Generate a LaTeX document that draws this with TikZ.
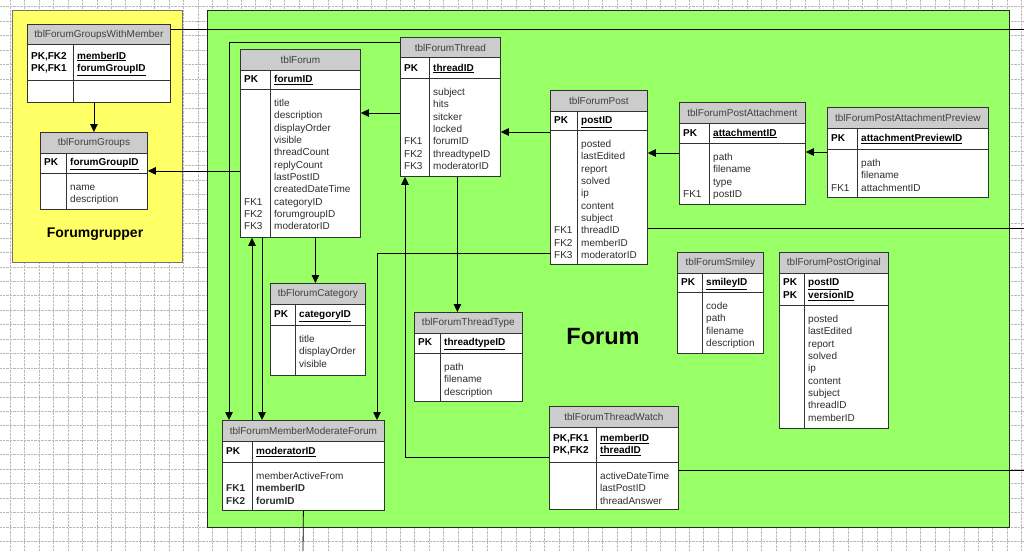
\documentclass[tikz,border=0pt]{standalone}
\usepackage{fontspec}
\setmainfont{Liberation Sans}
\usepackage{array}
\usetikzlibrary{arrows.meta}

\definecolor{forumgreen}{RGB}{153,255,102}
\definecolor{groupyellow}{RGB}{255,255,102}
\definecolor{headgray}{RGB}{204,204,204}
\definecolor{textgray}{RGB}{45,45,45}

\newcommand{\pkey}[1]{\underline{#1}}

% table frame, header and PK part
% #1 name, #2 x, #3 y, #4 width, #5 height, #6 key column, #7 PK height, #8 title, #9 PK rows
\newcommand{\dbtable}[9]{%
  \node[tblframe, minimum width=#4, minimum height=#5] (#1) at (#2,#3) {};
  \node[tblhead, minimum width=#4] (#1-h) at (#1.north west) {#8};
  \path (#1-h.south west) ++(0,#7) coordinate (#1-s);
  \draw[tblline] (#1-s) -- (#1-s -| #1.east);
  \draw[tblline] ([xshift=#6pt]#1-h.south west) -- ([xshift=#6pt]#1.south west);
  \path (#1-h.south west) ++(0,#7/2) node[pkrows] (#1-k)
    {\begin{tabular}{@{\hspace{4pt}}p{\dimexpr#6pt-8pt\relax}@{\hspace{8pt}}l@{}}#9\end{tabular}};
}
% attribute rows under the PK line
% #1 name, #2 key column, #3 rows
\newcommand{\dbrows}[3]{%
  \node[attrrows] (#1-a) at (#1-s)
    {\begin{tabular}{@{\hspace{4pt}}p{\dimexpr#2pt-8pt\relax}@{\hspace{8pt}}l@{}}#3\end{tabular}};
}

\begin{document}
\begin{tikzpicture}[x=1pt,y=-1pt,>={Triangle[length=8pt,width=7.5pt]},
    font=\fontsize{10}{12.3}\selectfont,
    gridline/.style={gray!55,densely dotted,line width=0.4pt},
    groupbox/.style={anchor=north west,inner sep=0pt,line width=1pt},
    tblframe/.style={draw=black!80,fill=white,line width=0.8pt,anchor=north west,inner sep=0pt},
    tblhead/.style={draw=black!80,fill=headgray,line width=0.8pt,anchor=north west,inner sep=0pt,
      minimum height=20.5,text=black!75},
    tblline/.style={draw=black!80,line width=0.8pt},
    pkrows/.style={anchor=west,inner sep=0pt,font=\fontsize{10}{12.3}\selectfont\bfseries},
    attrrows/.style={anchor=north west,inner xsep=0pt,inner ysep=8pt,text=textgray},
    link/.style={draw=black,line width=0.8pt},
    fk/.style={link,->}]

  \fill[white] (0,0) rectangle (1024,551);
  \useasboundingbox (0,0) rectangle (1024,551);
  \foreach \gx in {0,...,70}
    \draw[gridline] (10+\gx*14.45,0) -- (10+\gx*14.45,551);
  \foreach \gy in {0,...,38}
    \draw[gridline] (0,6.6+\gy*14.45) -- (1024,6.6+\gy*14.45);

  % areas
  \node[groupbox,fill=groupyellow,draw=black!55,minimum width=170,minimum height=252] (grpbox) at (12,10) {};
  \node[groupbox,fill=forumgreen,draw=black!85,minimum width=802,minimum height=517] (forumbox) at (207,10) {};
  \node[font=\fontsize{14}{16}\selectfont\bfseries] (grplabel) at (95,234) {Forumgrupper};
  \node[font=\fontsize{23.5}{26}\selectfont\bfseries] (forumlabel) at (603,337) {Forum};

  % tables
  \dbtable{gwm}{27}{24}{143}{78}{46}{35.5}{tblForumGroupsWithMember}
    {PK,FK2 & \pkey{memberID}\\ PK,FK1 & \pkey{forumGroupID}}

  \dbtable{groups}{40}{132}{107}{77}{26}{20.5}{tblForumGroups}{PK & \pkey{forumGroupID}}
  \dbrows{groups}{26}{& name\\ & description}

  \dbtable{forum}{240}{49}{120}{188}{30}{19.5}{tblForum}{PK & \pkey{forumID}}
  \dbrows{forum}{30}{& title\\ & description\\ & displayOrder\\ & visible\\ & threadCount\\
    & replyCount\\ & lastPostID\\ & createdDateTime\\ FK1 & categoryID\\ FK2 & forumgroupID\\
    FK3 & moderatorID}

  \dbtable{thread}{400}{37}{100}{139}{29}{20.5}{tblForumThread}{PK & \pkey{threadID}}
  \dbrows{thread}{29}{& subject\\ & hits\\ & sitcker\\ & locked\\ FK1 & forumID\\
    FK2 & threadtypeID\\ FK3 & moderatorID}

  \dbtable{post}{550}{90}{97}{174}{27}{19.5}{tblForumPost}{PK & \pkey{postID}}
  \dbrows{post}{27}{& posted\\ & lastEdited\\ & report\\ & solved\\ & ip\\ & content\\
    & subject\\ FK1 & threadID\\ FK2 & memberID\\ FK3 & moderatorID}

  \dbtable{attach}{679}{102}{126}{102}{30}{20.5}{tblForumPostAttachment}{PK & \pkey{attachmentID}}
  \dbrows{attach}{30}{& path\\ & filename\\ & type\\ FK1 & postID}

  \dbtable{preview}{827}{107}{161}{90}{30}{21.5}{tblForumPostAttachmentPreview}
    {PK & \pkey{attachmentPreviewID}}
  \dbrows{preview}{30}{& path\\ & filename\\ FK1 & attachmentID}

  \dbtable{smiley}{677}{252}{86}{101}{25}{19.5}{tblForumSmiley}{PK & \pkey{smileyID}}
  \dbrows{smiley}{25}{& code\\ & path\\ & filename\\ & description}

  \dbtable{original}{779}{252}{109}{176}{25}{32.5}{tblForumPostOriginal}
    {PK & \pkey{postID}\\ PK & \pkey{versionID}}
  \dbrows{original}{25}{& posted\\ & lastEdited\\ & report\\ & solved\\ & ip\\ & content\\
    & subject\\ & threadID\\ & memberID}

  \dbtable{category}{270}{283}{95}{92}{25}{21.5}{tbFlorumCategory}{PK & \pkey{categoryID}}
  \dbrows{category}{25}{& title\\ & displayOrder\\ & visible}

  \dbtable{ttype}{414}{312}{108}{89}{26}{20.5}{tblForumThreadType}{PK & \pkey{threadtypeID}}
  \dbrows{ttype}{26}{& path\\ & filename\\ & description}

  \dbtable{moderate}{222}{420}{162}{90}{30}{21.5}{tblForumMemberModerateForum}
    {PK & \pkey{moderatorID}}
  \dbrows{moderate}{30}{& memberActiveFrom\\ \textbf{FK1} & \textbf{memberID}\\
    \textbf{FK2} & \textbf{forumID}}

  \dbtable{watch}{549}{406}{129}{103}{47}{35.5}{tblForumThreadWatch}
    {PK,FK1 & \pkey{memberID}\\ PK,FK2 & \pkey{threadID}}
  \dbrows{watch}{47}{& activeDateTime\\ & lastPostID\\ & threadAnswer}

  % connectors
  \coordinate (edgeA) at (1024,29);
  \coordinate (edgeB) at (1024,228);
  \coordinate (edgeC) at (1024,470);
  \coordinate (edgeD) at (303,551);

  \draw[fk] (gwm.south -| groups.north) -- (groups.north);
  \draw[link] (gwm.east |- edgeA) -- (edgeA);
  \draw[fk] (forum.west |- groups.east) -- (groups.east);
  \draw[fk] ([yshift=-76pt]thread.north west) -- ([yshift=-64pt]forum.north east);
  \draw[fk] ([yshift=-42pt]post.north west) -- ([yshift=-95pt]thread.north east);
  \draw[fk] ([yshift=-51pt]attach.north west) -- ([yshift=-63pt]post.north east);
  \draw[fk] ([yshift=-45pt]preview.north west) -- ([yshift=-50pt]attach.north east);
  \draw[fk] ([xshift=15pt]forum.south) -- ([xshift=-2.5pt]category.north);
  \draw[fk] ([xshift=7pt]thread.south) -- ([xshift=-11pt]ttype.north);
  \draw[fk] ([yshift=-5pt]thread.north west) -| ([xshift=7pt]moderate.north west);
  \draw[fk] ([xshift=30pt]moderate.north west) -- ([xshift=12pt]forum.south west);
  \draw[fk] ([xshift=22pt]forum.south west) -- ([xshift=40pt]moderate.north west);
  \draw[fk] ([yshift=-163pt]post.north west) -| ([xshift=155pt]moderate.north west);
  \draw[fk] ([yshift=-51pt]watch.north west) -| ([xshift=5pt]thread.south west);
  \draw[link] (post.east |- edgeB) -- (edgeB);
  \draw[link] (watch.east |- edgeC) -- (edgeC);
  \draw[link] (moderate.south) -- (edgeD);
\end{tikzpicture}
\end{document}
